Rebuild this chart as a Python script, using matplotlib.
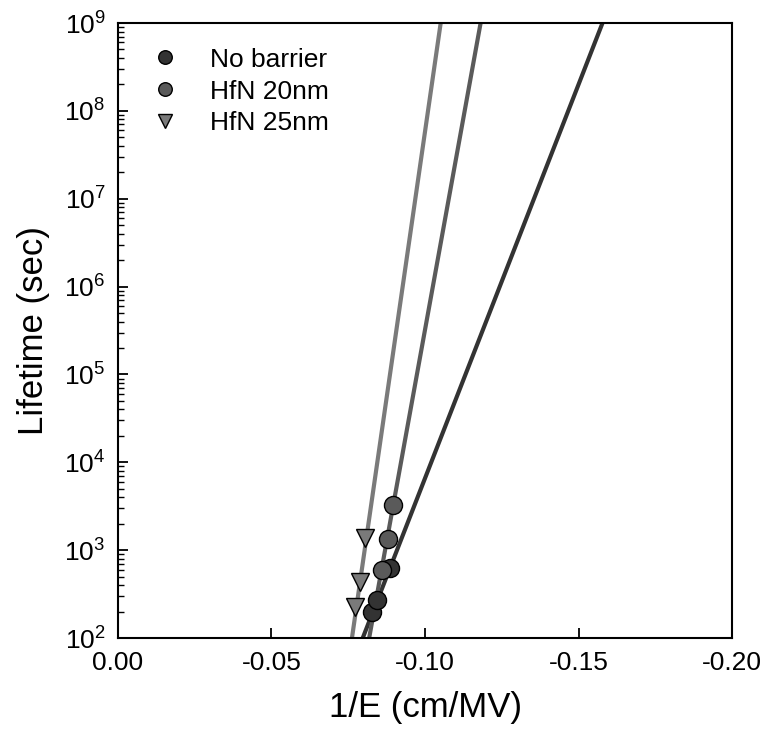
import numpy as np
import matplotlib
matplotlib.use("Agg")
import matplotlib.pyplot as plt
from matplotlib.ticker import LogLocator, LogFormatterMathtext, NullFormatter

plt.rcParams["font.family"] = ["Liberation Sans", "DejaVu Sans"]
plt.rcParams["mathtext.fontset"] = "custom"
plt.rcParams["mathtext.rm"] = "Liberation Sans"
plt.rcParams["mathtext.it"] = "Liberation Sans:italic"
plt.rcParams["axes.unicode_minus"] = False

# dados: 1/E (cm/MV) e tempo de vida (s)
series_names = ["No barrier", "HfN 20nm", "HfN 25nm"]

nobarrier_x = [-0.0827, -0.0843, -0.0885]
nobarrier_t = [199, 270, 636]

hfn20_x = [-0.0859, -0.0880, -0.0896]
hfn20_t = [603, 1358, 3245]

hfn25_x = [-0.0773, -0.0789, -0.0805]
hfn25_t = [227, 436, 1396]

# retas de ajuste: valor de 1/E em t = 1e2 s e em t = 1e9 s
fit_x_1e2 = [-0.0797, -0.0818, -0.0762]
fit_x_1e9 = [-0.1578, -0.1181, -0.1051]

cores = ["#333333", "#5a5a5a", "#7a7a7a"]
marcadores = ["o", "o", "v"]

fig = plt.figure(figsize=(7.69, 7.42), dpi=100)
ax = fig.add_axes([0.1534, 0.140, 0.7986, 0.829])

# linhas de ajuste (log10 t linear em 1/E)
for i in range(3):
    logt = np.array([2.0, 9.0])
    xs = np.array([fit_x_1e2[i], fit_x_1e9[i]])
    ax.plot(xs, 10 ** logt, color=cores[i], lw=3, zorder=2, solid_capstyle="butt")

dados = [(nobarrier_x, nobarrier_t), (hfn20_x, hfn20_t), (hfn25_x, hfn25_t)]
for i, (xs, ts) in enumerate(dados):
    ax.plot(xs, ts, linestyle="none", marker=marcadores[i], ms=13,
            mfc=cores[i], mec="black", mew=1.0, label=series_names[i], zorder=3)

ax.set_yscale("log")
ax.set_xlim(0.0, -0.20)
ax.set_ylim(1e2, 1e9)
ax.set_xticks([0.0, -0.05, -0.10, -0.15, -0.20])
ax.set_xticklabels(["0.00", "-0.05", "-0.10", "-0.15", "-0.20"])

ax.yaxis.set_major_locator(LogLocator(base=10, numticks=20))
ax.yaxis.set_major_formatter(LogFormatterMathtext())
ax.yaxis.set_minor_locator(LogLocator(base=10, subs=np.arange(2, 10), numticks=20))
ax.yaxis.set_minor_formatter(NullFormatter())

ax.tick_params(axis="both", which="major", direction="in", length=7, width=1.3,
               labelsize=19, top=False, right=False)
ax.tick_params(axis="x", pad=9)
ax.tick_params(axis="y", pad=9)
ax.tick_params(axis="y", which="minor", direction="in", length=4, width=1.0, right=False)

for s in ax.spines.values():
    s.set_linewidth(1.5)

ax.set_xlabel("1/E (cm/MV)", fontsize=25, labelpad=12)
ax.set_ylabel("Lifetime (sec)", fontsize=25, labelpad=10)

ax.legend(loc="upper left", frameon=False, fontsize=19, markerscale=0.75,
          handletextpad=0.7, labelspacing=0.3, borderaxespad=0.3,
          bbox_to_anchor=(0.004, 0.99))

fig.savefig("out.png", dpi=100)
